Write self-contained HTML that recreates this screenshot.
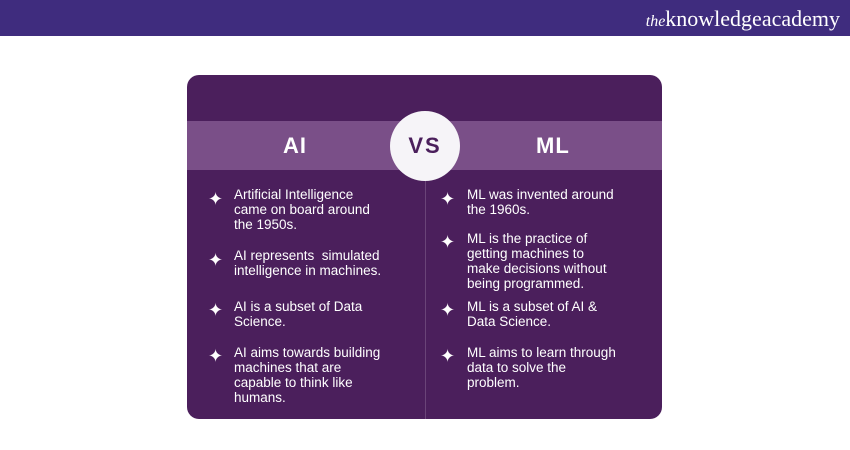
<!DOCTYPE html>
<html><head><style>
body{margin:0;width:850px;height:450px;background:#fff;position:relative;overflow:hidden;font-family:"Liberation Sans",sans-serif}
.top{position:absolute;left:0;top:0;width:850px;height:36px;background:#3f2c7e}
.logo{position:absolute;right:10px;top:6px;color:#fff;font-family:"Liberation Serif",serif;font-size:22px}
.logo i{font-size:16px}
.card{position:absolute;left:187px;top:75px;width:475px;height:344px;background:#4b1f5c;border-radius:12px;overflow:hidden}
.band{position:absolute;left:0;top:46px;width:475px;height:49px;background:#7a4f88}
.h{position:absolute;top:58px;color:#fff;font-weight:bold;font-size:22px;letter-spacing:1px}
.circ{position:absolute;left:203px;top:36px;width:70px;height:70px;border-radius:50%;background:#f6f4f8;color:#4b1f5c;font-weight:bold;font-size:22px;text-align:center;line-height:70px;letter-spacing:2px}
.div{position:absolute;left:238px;top:95px;width:1px;height:249px;background:#6a4478}
.it{position:absolute;color:#fff;font-size:13.5px;line-height:15px;white-space:nowrap}
.st{position:absolute;color:#fff;font-size:18px;line-height:18px}
</style></head><body>
<div class="top"><div class="logo"><i>the</i>knowledgeacademy</div></div>
<div class="card">
<div class="band"></div>
<div class="h" style="left:96px">AI</div>
<div class="h" style="left:349px">ML</div>
<div class="div"></div>
<div class="circ">VS</div>
<span class="st" style="left:21px;top:115px">✦</span><div class="it" style="left:47px;top:112px">Artificial Intelligence<br>came on board around<br>the 1950s.</div>
<span class="st" style="left:21px;top:176px">✦</span><div class="it" style="left:47px;top:173px">AI represents&nbsp; simulated<br>intelligence in machines.</div>
<span class="st" style="left:21px;top:226px">✦</span><div class="it" style="left:47px;top:224px">AI is a subset of Data<br>Science.</div>
<span class="st" style="left:21px;top:272px">✦</span><div class="it" style="left:47px;top:270px">AI aims towards building<br>machines that are<br>capable to think like<br>humans.</div>
<span class="st" style="left:253px;top:115px">✦</span><div class="it" style="left:280px;top:112px">ML was invented around<br>the 1960s.</div>
<span class="st" style="left:253px;top:158px">✦</span><div class="it" style="left:280px;top:156px">ML is the practice of<br>getting machines to<br>make decisions without<br>being programmed.</div>
<span class="st" style="left:253px;top:226px">✦</span><div class="it" style="left:280px;top:224px">ML is a subset of AI &amp;<br>Data Science.</div>
<span class="st" style="left:253px;top:272px">✦</span><div class="it" style="left:280px;top:270px">ML aims to learn through<br>data to solve the<br>problem.</div>
</div>
</body></html>
